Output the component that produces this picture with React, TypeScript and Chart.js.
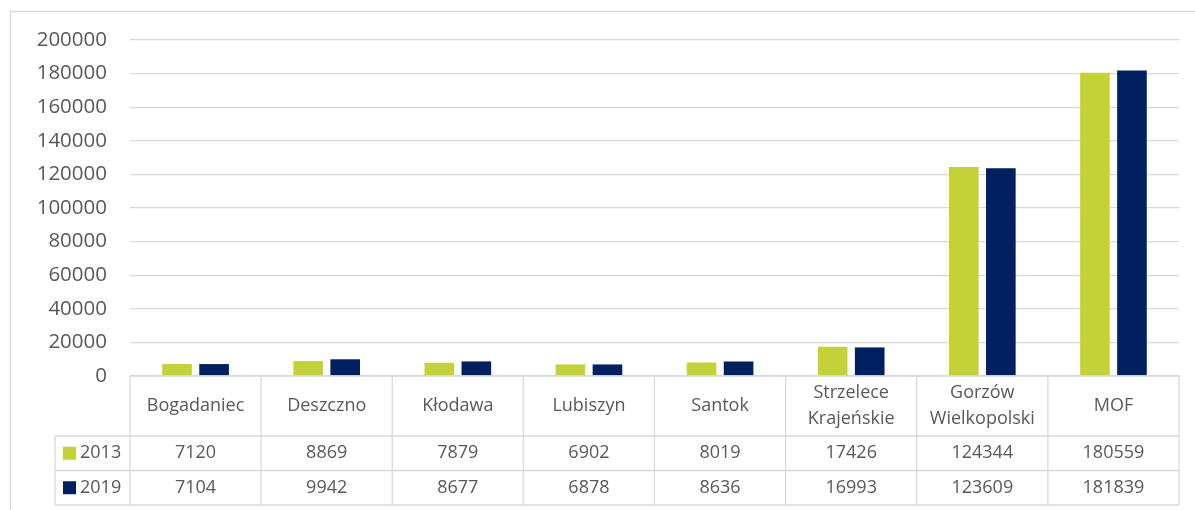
import React, { useEffect, useRef } from "react";
import { Chart, registerables } from "chart.js";

Chart.register(...registerables);

const categories: string[][] = [
  ["Bogadaniec"],
  ["Deszczno"],
  ["Kłodawa"],
  ["Lubiszyn"],
  ["Santok"],
  ["Strzelece", "Krajeńskie"],
  ["Gorzów", "Wielkopolski"],
  ["MOF"],
];
const seriesNames = ["2013", "2019"];
const values2013 = [7120, 8869, 7879, 6902, 8019, 17426, 124344, 180559];
const values2019 = [7104, 9942, 8677, 6878, 8636, 16993, 123609, 181839];
const yTicks = [0, 20000, 40000, 60000, 80000, 100000, 120000, 140000, 160000, 180000, 200000];

const GREEN = "#C4D137";
const NAVY = "#00205F";
const GRID = "#D9D9D9";
const TEXT = "#595959";
const FONT = "'Open Sans', sans-serif";

const tablePlugin = {
  id: "dataTable",
  beforeDraw(chart: any) {
    const ctx = chart.ctx;
    ctx.save();
    ctx.strokeStyle = GRID;
    ctx.lineWidth = 1.3;
    ctx.beginPath();
    ctx.moveTo(10.5, 510);
    ctx.lineTo(10.5, 11.5);
    ctx.lineTo(1195, 11.5);
    ctx.stroke();
    ctx.restore();
  },
  afterDraw(chart: any) {
    const { ctx, chartArea } = chart;
    const xs = chart.scales.x;
    const n = categories.length;
    const left = chartArea.left;
    const right = chartArea.right;
    const top = chartArea.bottom;
    const catRowH = 60;
    const rowH = 34.5;
    const legendLeft = 55;
    const r1 = top + catRowH;
    const r2 = r1 + rowH;
    const r3 = r2 + rowH;

    ctx.save();
    ctx.strokeStyle = GRID;
    ctx.lineWidth = 1.3;
    ctx.beginPath();
    ctx.moveTo(left, top);
    ctx.lineTo(right, top);
    for (const y of [r1, r2, r3]) {
      ctx.moveTo(legendLeft, y);
      ctx.lineTo(right, y);
    }
    ctx.moveTo(legendLeft, r1);
    ctx.lineTo(legendLeft, r3);
    const cw = (right - left) / n;
    for (let i = 0; i < n; i++) {
      const cx = xs.getPixelForValue(i);
      const bx = cx - cw / 2;
      ctx.moveTo(bx, top);
      ctx.lineTo(bx, r3);
      if (i === n - 1) {
        ctx.moveTo(cx + cw / 2, top);
        ctx.lineTo(cx + cw / 2, r3);
      }
    }
    ctx.stroke();

    ctx.fillStyle = TEXT;
    ctx.font = `18px ${FONT}`;
    ctx.textAlign = "center";
    ctx.textBaseline = "middle";
    const lineH = 26;
    for (let i = 0; i < n; i++) {
      const cx = xs.getPixelForValue(i);
      const lines = categories[i];
      const midY = top + catRowH / 2;
      lines.forEach((ln, k) => {
        const y = midY + (k - (lines.length - 1) / 2) * lineH;
        ctx.fillText(ln, cx, y);
      });
      ctx.fillText(String(values2013[i]), cx, r1 + rowH / 2);
      ctx.fillText(String(values2019[i]), cx, r2 + rowH / 2);
    }

    const colors = [GREEN, NAVY];
    const rowsY = [r1 + rowH / 2, r2 + rowH / 2];
    ctx.textAlign = "left";
    for (let s = 0; s < 2; s++) {
      ctx.fillStyle = colors[s];
      ctx.fillRect(63, rowsY[s] - 6.5, 13, 13);
      ctx.fillStyle = TEXT;
      ctx.fillText(seriesNames[s], 80, rowsY[s]);
    }
    ctx.restore();
  },
};

export default function App() {
  const ref = useRef<HTMLCanvasElement | null>(null);

  useEffect(() => {
    if (!ref.current) return;
    const chart = new Chart(ref.current, {
      type: "bar",
      data: {
        labels: categories.map((c) => c.join(" ")),
        datasets: [
          {
            label: seriesNames[0],
            data: values2013,
            backgroundColor: GREEN,
            categoryPercentage: 0.565,
            barPercentage: 0.8,
          },
          {
            label: seriesNames[1],
            data: values2019,
            backgroundColor: NAVY,
            categoryPercentage: 0.565,
            barPercentage: 0.8,
          },
        ],
      },
      options: {
        animation: false,
        responsive: false,
        layout: { padding: { left: 0, top: 40, right: 16, bottom: 134 } },
        plugins: {
          legend: { display: false },
          tooltip: { enabled: false },
        },
        scales: {
          x: {
            grid: { display: false },
            border: { display: false },
            ticks: { display: false },
            afterFit: (s: any) => {
              s.height = 0;
            },
          },
          y: {
            min: 0,
            max: 200000,
            afterBuildTicks: (s: any) => {
              s.ticks = yTicks.map((v) => ({ value: v }));
            },
            grid: { color: GRID, lineWidth: 1.3, drawTicks: false },
            border: { display: false },
            ticks: {
              color: TEXT,
              padding: 23,
              font: { family: FONT, size: 20.5 },
              callback: (v: any) => String(v),
            },
            afterFit: (s: any) => {
              s.width = 130;
            },
          },
        },
      },
      plugins: [tablePlugin],
    });
    return () => chart.destroy();
  }, []);

  return (
    <div style={{ position: "absolute", left: 0, top: 0, width: 1195, height: 510, background: "#fff" }}>
      <canvas ref={ref} width={1195} height={510} />
    </div>
  );
}
